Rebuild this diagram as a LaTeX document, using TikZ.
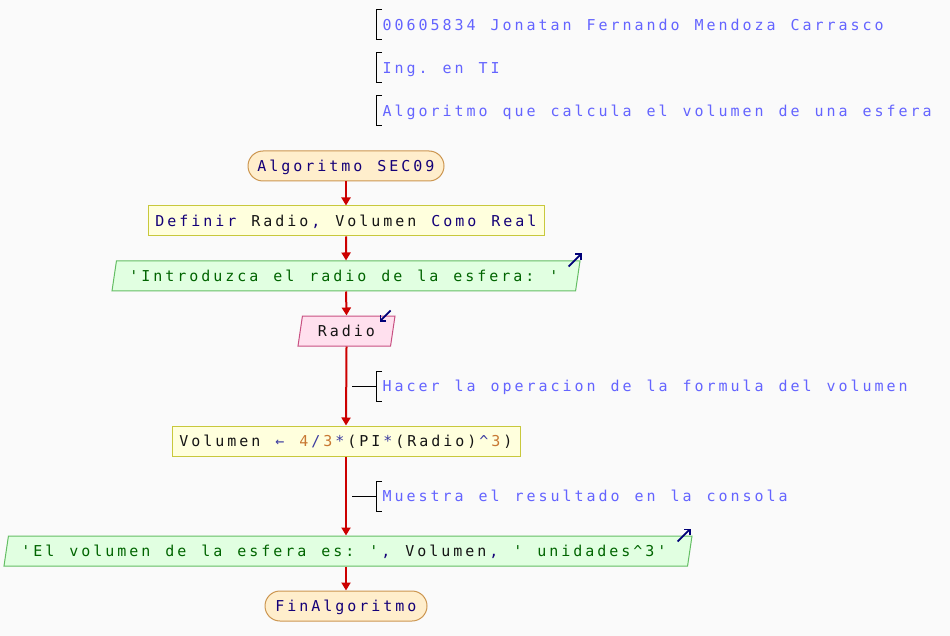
\documentclass[tikz,border=0pt]{standalone}
\usepackage{fontspec}
\newfontfamily\code{DejaVu Sans Mono}
\usetikzlibrary{arrows.meta,shapes.geometric}
\ExplSyntaxOn
\NewDocumentCommand\mono{m}{\str_map_inline:nn{#1}{\makebox[12pt][c]{##1}}}
\NewDocumentCommand\seg{mm}{{\color{#1}\mono{#2}}}
\ExplSyntaxOff
\definecolor{bgc}{RGB}{250,250,250}
\definecolor{termF}{RGB}{255,238,204}
\definecolor{termB}{RGB}{204,150,80}
\definecolor{procF}{RGB}{255,255,221}
\definecolor{procB}{RGB}{200,200,60}
\definecolor{outF}{RGB}{225,255,225}
\definecolor{outB}{RGB}{100,190,100}
\definecolor{inF}{RGB}{255,224,238}
\definecolor{inB}{RGB}{200,80,130}
\definecolor{flowR}{RGB}{204,0,0}
\definecolor{kw}{RGB}{20,0,120}
\definecolor{idc}{RGB}{20,20,20}
\definecolor{strc}{RGB}{0,100,0}
\definecolor{numc}{RGB}{200,120,50}
\definecolor{opc}{RGB}{60,60,160}
\definecolor{cmt}{RGB}{100,100,255}
\definecolor{navyA}{RGB}{0,0,120}
\begin{document}
\begin{tikzpicture}[x=1pt,y=-1pt,
  every node/.style={font=\code\fontsize{15}{17}\selectfont, inner sep=0pt, text height=11pt, text depth=0pt},
  term/.style={draw=termB, fill=termF, line width=1pt, rounded corners=15pt, minimum height=30pt},
  procbox/.style={draw=procB, fill=procF, line width=1pt, minimum height=30pt},
  outbox/.style={trapezium, trapezium left angle=68, trapezium right angle=112, trapezium stretches body,
     draw=outB, fill=outF, line width=1pt, minimum height=30pt},
  inbox/.style={trapezium, trapezium left angle=68, trapezium right angle=112, trapezium stretches body,
     draw=inB, fill=inF, line width=1pt, minimum height=30pt},
  flow/.style={draw=flowR, line width=2pt, -{Triangle[width=9pt,length=8pt]}},
  brk/.style={draw=black, line width=1pt},
  cmtxt/.style={anchor=west, text=cmt},
  navarrow/.style={draw=navyA, line width=1.8pt, -{Straight Barb[length=4pt,width=8pt]}}
]
\fill[bgc] (0,0) rectangle (950,636);
\useasboundingbox (0,0) rectangle (950,636);

% top comments
\node[cmtxt] (c1) at (381,25) {\mono{00605834 Jonatan Fernando Mendoza Carrasco}};
\node[cmtxt] (c2) at (381,68) {\mono{Ing. en TI}};
\node[cmtxt] (c3) at (381,111) {\mono{Algoritmo que calcula el volumen de una esfera}};
\foreach \c in {c1,c2,c3}{
  \draw[brk] ([xshift=1pt,yshift=15pt]\c.west) -- ++(-6,0) -- ++(0,30) -- ++(6,0);
}

% flow nodes
\node[term, minimum width=196pt] (start) at (346,166) {\seg{kw}{Algoritmo SEC09}};
\node[procbox, minimum width=396pt] (def) at (346,221) {\seg{kw}{Definir }\seg{idc}{Radio}\seg{kw}{, }\seg{idc}{Volumen }\seg{kw}{Como Real}};
\node[outbox, minimum width=468pt] (out1) at (346,276) {\seg{strc}{'Introduzca el radio de la esfera: '}\kern4pt};
\node[inbox, minimum width=97pt] (in1) at (346.5,331) {\seg{idc}{Radio}};
\node[procbox, minimum width=348pt] (asg) at (346,441) {\seg{idc}{Volumen }\seg{opc}{←}\seg{idc}{ }\seg{numc}{4}\seg{opc}{/}\seg{numc}{3}\seg{opc}{*}\seg{idc}{(PI}\seg{opc}{*}\seg{idc}{(Radio)}\seg{opc}{^}\seg{numc}{3}\seg{idc}{)}};
\node[outbox, minimum width=688pt] (out2) at (348,551) {\seg{strc}{'El volumen de la esfera es: '}\seg{kw}{, }\seg{idc}{Volumen}\seg{kw}{, }\seg{strc}{' unidades^3'}\kern8pt};
\node[term, minimum width=162pt] (fin) at (346,606) {\seg{kw}{FinAlgoritmo}};

% middle comments
\node[cmtxt] (c4) at (381,386) {\mono{Hacer la operacion de la formula del volumen}};
\node[cmtxt] (c5) at (381,496) {\mono{Muestra el resultado en la consola}};
\foreach \c in {c4,c5}{
  \draw[brk] ([xshift=1pt,yshift=15pt]\c.west) -- ++(-6,0) -- ++(0,30) -- ++(6,0);
  \draw[brk] ([xshift=-5pt]\c.west) -- ++(-24,0);
}

% connectors
\draw[flow] (start.south) -- (def.north);
\draw[flow] (def.south) -- (out1.south |- out1.north);
\draw[flow] (out1.south) -- (in1.south |- in1.north);
\draw[flow] (in1.south) -- (asg.north);
\draw[flow] (asg.south) -- (asg.south |- out2.north);
\draw[flow] (asg.south |- out2.south) -- (fin.north);

% io marks
\draw[navarrow] ([xshift=-12pt,yshift=-6pt]out1.top right corner) -- ++(13,-13);
\draw[navarrow] ([xshift=-5pt,yshift=5pt]in1.top right corner) -- ++(-11,11);
\draw[navarrow] ([xshift=-15pt,yshift=-6pt]out2.top right corner) -- ++(13,-13);
\end{tikzpicture}
\end{document}
